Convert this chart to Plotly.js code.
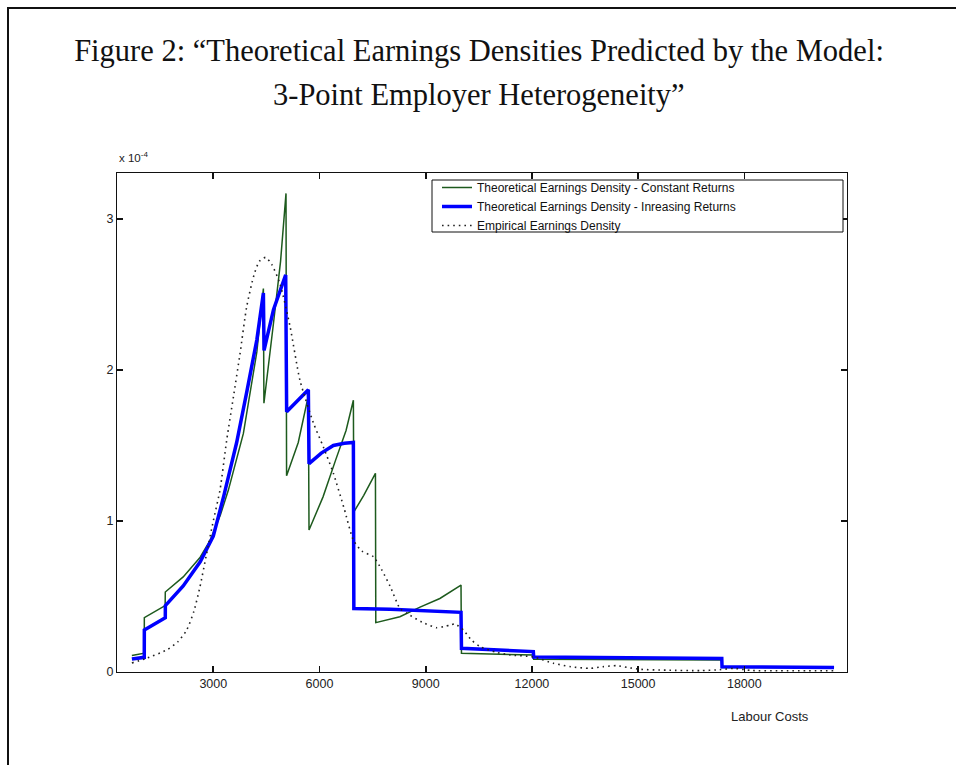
<!DOCTYPE html>
<html>
<head>
<meta charset="utf-8">
<script src="https://cdn.plot.ly/plotly-3.0.1.min.js"></script>
<style>
  html, body { margin: 0; padding: 0; background: #fff; }
  #wrap { position: relative; width: 956px; height: 765px; overflow: hidden; }
  #chart { position: absolute; left: 0; top: 0; width: 956px; height: 765px; }
  #frame { position: absolute; left: 7px; top: 7px; right: -2px; bottom: -2px;
           border-top: 2px solid #111; border-left: 2px solid #111; pointer-events: none; }
</style>
</head>
<body>
<div id="wrap">
  <div id="chart"></div>
  <div id="frame"></div>
</div>
<script>
// Values (density in units of 1e-4)
const constantX = [700, 1050, 1052, 1640, 1644, 2150, 2630, 2907, 3200, 3426, 3850, 4230, 4415, 4430, 4700, 4900, 5054, 5070, 5400, 5685, 5704, 6100, 6450, 6750, 6957, 6970, 7250, 7580, 7590, 8270, 8840, 9400, 9997, 10010, 12040, 12050, 17363, 17370, 20534];
const constantY = [0.11, 0.125, 0.36, 0.44, 0.53, 0.63, 0.76, 0.87, 1.04, 1.205, 1.58, 2.12, 2.54, 1.78, 2.31, 2.72, 3.17, 1.30, 1.52, 1.83, 0.94, 1.16, 1.40, 1.60, 1.80, 1.06, 1.17, 1.316, 0.327, 0.366, 0.43, 0.487, 0.576, 0.124, 0.112, 0.085, 0.08, 0.03, 0.028];

const increasingX = [700, 1050, 1052, 1644, 1646, 2150, 2630, 2907, 3000, 3300, 3660, 3950, 4230, 4415, 4433, 4700, 4900, 5045, 5072, 5400, 5685, 5704, 6050, 6392, 6700, 6957, 6970, 8000, 9000, 9997, 10010, 12040, 12050, 17363, 17370, 20534];
const increasingY = [0.086, 0.097, 0.278, 0.36, 0.44, 0.57, 0.73, 0.85, 0.90, 1.17, 1.52, 1.86, 2.2, 2.51, 2.13, 2.40, 2.54, 2.63, 1.724, 1.80, 1.87, 1.38, 1.45, 1.50, 1.515, 1.52, 0.42, 0.415, 0.405, 0.395, 0.157, 0.135, 0.10, 0.09, 0.035, 0.03];

const empiricalX = [700, 1100, 1684, 2000, 2249, 2450, 2625, 2800, 3000, 3189, 3379, 3567, 3750, 3944, 4150, 4300, 4480, 4650, 4885, 5167, 5450, 5827, 6109, 6392, 6700, 6957, 7200, 7522, 7750, 8000, 8274, 8464, 8900, 9311, 9500, 9687, 9828, 10063, 10300, 10534, 11000, 11382, 12040, 12605, 13100, 13641, 14000, 14393, 14700, 15054, 15800, 16749, 17300, 17690, 18200, 19000, 20520];
const empiricalY = [0.06, 0.09, 0.146, 0.2, 0.278, 0.4, 0.565, 0.77, 1.0, 1.205, 1.536, 1.82, 2.1, 2.42, 2.63, 2.72, 2.746, 2.70, 2.57, 2.29, 1.93, 1.65, 1.49, 1.316, 1.08, 0.874, 0.80, 0.764, 0.68, 0.565, 0.42, 0.389, 0.33, 0.293, 0.30, 0.311, 0.318, 0.278, 0.21, 0.168, 0.13, 0.113, 0.10, 0.058, 0.035, 0.024, 0.035, 0.042, 0.03, 0.018, 0.012, 0.009, 0.015, 0.024, 0.01, 0.008, 0.008];

const seriesNames = [
  'Theoretical Earnings Density - Constant Returns',
  'Theoretical Earnings Density - Inreasing Returns',
  'Empirical Earnings Density'
];
const xTicks = [3000, 6000, 9000, 12000, 15000, 18000];
const yTicks = [0, 1, 2, 3];

const traces = [
  { x: constantX, y: constantY, name: seriesNames[0], type: 'scatter', mode: 'lines',
    line: { color: '#1d5a1d', width: 1.5 } },
  { x: increasingX, y: increasingY, name: seriesNames[1], type: 'scatter', mode: 'lines',
    line: { color: '#0000ff', width: 3.5 } },
  { x: empiricalX, y: empiricalY, name: seriesNames[2], type: 'scatter', mode: 'lines',
    line: { color: '#222', width: 1.6, dash: '1.6px,4px', shape: 'spline', smoothing: 0.6 } }
];

const axisCommon = {
  showline: true, mirror: 'ticks', linecolor: '#111', linewidth: 1,
  ticks: 'inside', ticklen: 6, tickwidth: 1.6, tickcolor: '#111',
  showgrid: false, zeroline: false,
  tickfont: { family: 'Liberation Sans, Arial, sans-serif', size: 12.5, color: '#222' }
};

const W = 730, H = 499, L = 117, T = 173;
const px = v => (v - L) / W;
const py = v => (T + H - v) / H;

const layout = {
  width: 956, height: 765,
  margin: { l: 117, r: 109, t: 173, b: 93 },
  paper_bgcolor: '#fff', plot_bgcolor: '#fff',
  title: {
    text: 'Figure 2: \u201cTheoretical Earnings Densities Predicted by the Model:',
    font: { family: 'Liberation Serif, DejaVu Serif, serif', size: 30.5, color: '#111' },
    x: 479 / 956, xanchor: 'center', y: 1 - 50 / 765, yanchor: 'middle'
  },
  xaxis: Object.assign({}, axisCommon, {
    range: [280, 20900], tickvals: xTicks, ticktext: xTicks.map(String)
  }),
  yaxis: Object.assign({}, axisCommon, {
    range: [0, 3.305], tickvals: yTicks, ticktext: yTicks.map(String)
  }),
  showlegend: true,
  legend: {
    x: px(437), y: py(173), xanchor: 'left', yanchor: 'top',
    bgcolor: 'rgba(0,0,0,0)', borderwidth: 0,
    font: { family: 'Liberation Sans, Arial, sans-serif', size: 12, color: '#111' },
    itemwidth: 30, tracegroupgap: 0
  },
  shapes: [
    { type: 'rect', xref: 'paper', yref: 'paper', layer: 'above',
      x0: px(432), x1: px(843), y0: py(232), y1: py(180),
      line: { color: '#111', width: 1 }, fillcolor: '#fff' }
  ],
  annotations: [
    { text: '3-Point Employer Heterogeneity\u201d', xref: 'paper', yref: 'paper',
      x: px(479), y: py(95), xanchor: 'center', yanchor: 'middle',
      showarrow: false,
      font: { family: 'Liberation Serif, DejaVu Serif, serif', size: 30.5, color: '#111' } },
    { text: 'x 10<sup>-4</sup>', xref: 'paper', yref: 'paper',
      x: 0, y: py(157), xanchor: 'left', yanchor: 'middle', showarrow: false,
      font: { family: 'Liberation Sans, Arial, sans-serif', size: 11.5, color: '#222' } },
    { text: 'Labour Costs', xref: 'paper', yref: 'paper',
      x: px(770), y: py(716), xanchor: 'center', yanchor: 'middle',
      showarrow: false,
      font: { family: 'Liberation Sans, Arial, sans-serif', size: 13, color: '#222' } }
  ]
};

Plotly.newPlot('chart', traces, layout, { displayModeBar: false, staticPlot: true });
</script>
</body>
</html>
